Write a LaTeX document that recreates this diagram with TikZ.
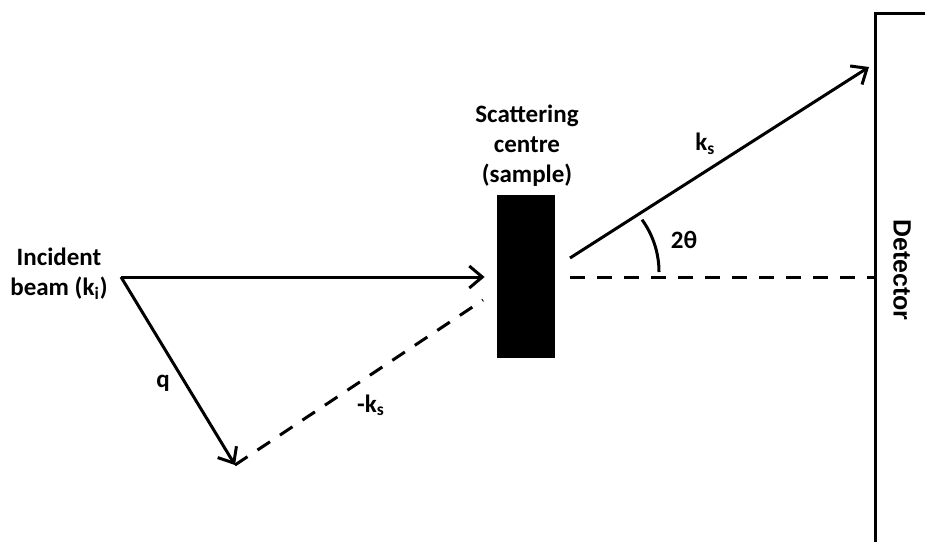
\documentclass[tikz,border=0pt]{standalone}
\usepackage{fontspec}
\setmainfont{Carlito}
\newfontfamily\detfont{Liberation Sans}
\usetikzlibrary{arrows.meta}

\begin{document}
\begin{tikzpicture}[x=0.5pt, y=-0.5pt, >={Straight Barb[length=6.5pt,width=11pt]},
  every node/.style={font=\bfseries\fontsize{12.5}{15}\selectfont},
  vec/.style={line width=1.5pt},
  dashvec/.style={line width=1.5pt, dash pattern=on 7.5pt off 6pt}]
  \useasboundingbox (0,0) rectangle (925,541);
  \clip (0,0) rectangle (925,541);
  \node[align=center] (inc) at (59,274) {Incident\\beam (k\textsubscript{i})};
  \node[align=center] (scat) at (527,146) {Scattering\\centre\\(sample)};
  \node[fill=black, inner sep=0, minimum width=29pt, minimum height=81.5pt] (sample) at (526,276.5) {};
  \node[draw, line width=1.6pt, inner sep=0, minimum width=80pt, minimum height=285pt, anchor=north west] (D) at (874,12) {};
  \node[rotate=-90, font=\detfont\bfseries\fontsize{12.5}{15}\selectfont] (Dlab) at (902,270) {Detector};
  \coordinate (O)  at (121,277);
  \coordinate (Qt) at (235,465);
  \coordinate (Kt) at (483,300);
  \coordinate (S1) at (570,277);
  \coordinate (S2) at (570,258);
  \coordinate (Dt) at (869,67);
  \coordinate (A0) at (659,272);
  \draw[vec,->] (O) -- ([xshift=-6pt]sample.west |- O);
  \draw[vec,->] (O) -- (Qt) node[midway,left,yshift=-6pt] {q};
  \draw[dashvec] (Qt) -- (Kt) node[midway,below,xshift=6pt,yshift=-2pt] {-k\textsubscript{s}};
  \draw[dashvec] (S1) -- (D.west |- S1);
  \draw[vec,->] (S2) -- (Dt) node[midway,above left,xshift=2pt] {k\textsubscript{s}};
  \draw[vec] (A0) arc[start angle=0, end angle=36, radius=44.5pt];
  \node (ang) at (684,240) {2θ};
\end{tikzpicture}
\end{document}
